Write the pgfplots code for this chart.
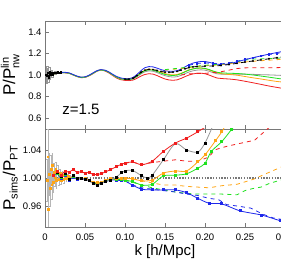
\documentclass[border=0pt]{standalone}
\usepackage{fontspec}
\setmainfont{Liberation Sans}
\usepackage{pgfplots}
\pgfplotsset{compat=1.18}
\definecolor{cred}{RGB}{240,30,30}
\definecolor{cblue}{RGB}{30,40,235}
\definecolor{cgreen}{RGB}{30,225,30}
\definecolor{corange}{RGB}{255,165,20}
\definecolor{cgray}{RGB}{150,150,150}
\definecolor{axgray}{RGB}{120,120,120}
\pgfplotsset{
  myax/.style={
    scale only axis, width=240pt, xmin=0, xmax=0.3,
    axis line style={axgray, line width=0.6pt},
    major tick style={axgray, line width=0.5pt},
    tick align=inside, major tick length=4pt,
    xtick={0,0.05,0.1,0.15,0.2,0.25,0.3},
    tick label style={font=\fontsize{9.5}{10}\selectfont, /pgf/number format/assume math mode=true},
    ylabel style={at={(axis description cs:-0.145,0.5)}, anchor=center, font=\fontsize{17}{18}\selectfont},
    every axis plot/.append style={line width=0.8pt},
  },
  dsh/.style={dash pattern=on 4pt off 4pt},
}
\begin{document}
\begin{tikzpicture}
%================ TOP PANEL ================
\begin{axis}[myax, at={(0,0)}, anchor=south west, height=108pt,
  ymin=0.5, ymax=1.5, ytick={0.6,0.8,1.0,1.2,1.4}, xticklabels={},
  yticklabel style={/pgf/number format/.cd, fixed, fixed zerofill, precision=1},
  ylabel={P/P$_{\mbox{\fontsize{11}{11}\selectfont nw}}^{\mbox{\fontsize{11}{11}\selectfont lin}}$}]
% low-k points
\addplot[only marks, mark=square*, mark size=0.8pt, black, error bars/.cd, y dir=both, y explicit, error bar style={cgray, line width=0.4pt}]
 coordinates {(0.002,1.00)+-(0,0.08) (0.003,0.99)+-(0,0.07) (0.004,1.02)+-(0,0.06) (0.005,0.98)+-(0,0.05) (0.006,1.03)+-(0,0.04) (0.007,1.00)+-(0,0.035) (0.008,1.01)+-(0,0.03) (0.009,1.02)+-(0,0.025) (0.010,1.00)+-(0,0.02) (0.012,1.02)+-(0,0.015) (0.014,1.02)+-(0,0.012) (0.016,1.025)+-(0,0.01) (0.018,1.02)+-(0,0.008) (0.020,1.025)+-(0,0.007)};
% red solid
\addplot[cred, smooth] coordinates {(0.005,1.000)(0.01,1.008)(0.015,1.016)(0.02,1.020)(0.025,1.020)(0.03,1.015)(0.035,1.000)(0.04,0.985)(0.045,0.975)(0.05,0.977)(0.055,0.992)(0.06,1.012)(0.065,1.035)(0.07,1.045)(0.075,1.037)(0.08,1.018)(0.085,0.993)(0.09,0.970)(0.095,0.956)(0.1,0.950)(0.105,0.948)(0.11,0.953)(0.115,0.970)(0.12,0.990)(0.125,1.005)(0.13,1.012)(0.135,1.008)(0.14,0.995)(0.145,0.978)(0.15,0.963)(0.155,0.954)(0.16,0.951)(0.165,0.955)(0.17,0.968)(0.175,0.985)(0.18,1.000)(0.185,1.010)(0.19,1.016)(0.195,1.017)(0.2,1.012)(0.205,1.000)(0.21,0.985)(0.215,0.972)(0.22,0.968)(0.225,0.965)(0.23,0.963)(0.24,0.955)(0.25,0.942)(0.26,0.928)(0.27,0.913)(0.28,0.898)(0.29,0.885)(0.3,0.872)};
% gray solid
\addplot[cgray, smooth] coordinates {(0.005,1.000)(0.01,1.008)(0.015,1.016)(0.02,1.021)(0.025,1.021)(0.03,1.016)(0.035,1.001)(0.04,0.986)(0.045,0.976)(0.05,0.979)(0.055,0.994)(0.06,1.014)(0.065,1.036)(0.07,1.046)(0.075,1.040)(0.08,1.022)(0.085,0.998)(0.09,0.976)(0.095,0.962)(0.1,0.956)(0.105,0.955)(0.11,0.963)(0.115,0.984)(0.12,1.010)(0.125,1.030)(0.13,1.038)(0.135,1.035)(0.14,1.023)(0.145,1.007)(0.15,0.994)(0.155,0.985)(0.16,0.981)(0.165,0.984)(0.17,0.997)(0.175,1.013)(0.18,1.028)(0.185,1.039)(0.19,1.045)(0.195,1.048)(0.2,1.045)(0.205,1.035)(0.21,1.022)(0.215,1.011)(0.22,1.008)(0.225,1.006)(0.23,1.006)(0.24,1.008)(0.25,1.008)(0.26,1.006)(0.27,1.003)(0.28,1.001)(0.29,0.998)(0.3,0.995)};
% orange solid
\addplot[corange, smooth] coordinates {(0.005,1.000)(0.01,1.009)(0.015,1.017)(0.02,1.023)(0.025,1.023)(0.03,1.018)(0.035,1.003)(0.04,0.988)(0.045,0.978)(0.05,0.981)(0.055,0.996)(0.06,1.017)(0.065,1.038)(0.07,1.048)(0.075,1.042)(0.08,1.025)(0.085,1.001)(0.09,0.980)(0.095,0.966)(0.1,0.960)(0.105,0.960)(0.11,0.969)(0.115,0.993)(0.12,1.023)(0.125,1.046)(0.13,1.055)(0.135,1.052)(0.14,1.040)(0.145,1.025)(0.15,1.013)(0.155,1.004)(0.16,1.001)(0.165,1.004)(0.17,1.016)(0.175,1.032)(0.18,1.048)(0.185,1.058)(0.19,1.063)(0.195,1.064)(0.2,1.059)(0.205,1.047)(0.21,1.032)(0.215,1.019)(0.22,1.013)(0.225,1.008)(0.23,1.005)(0.24,0.998)(0.25,0.986)(0.26,0.974)(0.27,0.963)(0.28,0.951)(0.29,0.940)(0.3,0.932)};
% green solid
\addplot[cgreen, smooth] coordinates {(0.005,1.000)(0.01,1.008)(0.015,1.016)(0.02,1.022)(0.025,1.022)(0.03,1.017)(0.035,1.002)(0.04,0.987)(0.045,0.977)(0.05,0.980)(0.055,0.995)(0.06,1.016)(0.065,1.037)(0.07,1.047)(0.075,1.041)(0.08,1.024)(0.085,1.000)(0.09,0.979)(0.095,0.965)(0.1,0.959)(0.105,0.958)(0.11,0.967)(0.115,0.989)(0.12,1.018)(0.125,1.040)(0.13,1.048)(0.135,1.045)(0.14,1.033)(0.145,1.018)(0.15,1.005)(0.155,0.998)(0.16,0.995)(0.165,0.999)(0.17,1.012)(0.175,1.029)(0.18,1.045)(0.185,1.056)(0.19,1.063)(0.195,1.065)(0.2,1.061)(0.205,1.051)(0.21,1.037)(0.215,1.025)(0.22,1.020)(0.225,1.018)(0.23,1.016)(0.24,1.014)(0.25,1.008)(0.26,1.000)(0.27,0.990)(0.28,0.980)(0.29,0.969)(0.3,0.960)};
% blue solid
\addplot[cblue, smooth] coordinates {(0.005,1.000)(0.01,1.010)(0.015,1.018)(0.02,1.024)(0.025,1.025)(0.03,1.020)(0.035,1.005)(0.04,0.990)(0.045,0.980)(0.05,0.983)(0.055,0.998)(0.06,1.020)(0.065,1.040)(0.07,1.050)(0.075,1.045)(0.08,1.028)(0.085,1.005)(0.09,0.985)(0.095,0.972)(0.1,0.966)(0.105,0.966)(0.11,0.978)(0.115,1.005)(0.12,1.040)(0.125,1.068)(0.13,1.078)(0.135,1.075)(0.14,1.064)(0.145,1.050)(0.15,1.040)(0.155,1.034)(0.16,1.034)(0.165,1.040)(0.17,1.055)(0.175,1.075)(0.18,1.095)(0.185,1.110)(0.19,1.120)(0.195,1.125)(0.2,1.125)(0.205,1.118)(0.21,1.108)(0.215,1.100)(0.22,1.097)(0.225,1.098)(0.23,1.103)(0.24,1.122)(0.25,1.142)(0.26,1.160)(0.27,1.177)(0.28,1.193)(0.29,1.208)(0.3,1.222)};
% dashed
\addplot[cred, dsh] coordinates {(0.17,1.0)(0.18,1.01)(0.19,1.015)(0.2,1.015)(0.21,1.022)(0.22,1.03)(0.23,1.045)(0.24,1.06)(0.25,1.066)(0.26,1.067)(0.27,1.067)(0.28,1.067)(0.29,1.068)(0.3,1.07)};
\addplot[corange, dsh] coordinates {(0.15,1.045)(0.17,1.06)(0.19,1.077)(0.2,1.085)(0.22,1.095)(0.24,1.112)(0.25,1.12)(0.26,1.127)(0.27,1.132)(0.28,1.137)(0.29,1.142)(0.3,1.147)};
\addplot[cgreen, dsh] coordinates {(0.15,1.05)(0.17,1.065)(0.19,1.082)(0.2,1.09)(0.21,1.095)(0.22,1.1)(0.23,1.11)(0.24,1.125)(0.25,1.138)(0.26,1.147)(0.27,1.15)(0.28,1.152)(0.29,1.155)(0.3,1.16)};
\addplot[cblue, dsh, mark=square*, mark size=0.8pt, mark options={solid}] coordinates {(0.18,1.09)(0.19,1.107)(0.2,1.112)(0.21,1.107)(0.22,1.103)(0.23,1.11)(0.24,1.127)(0.25,1.143)(0.26,1.16)(0.27,1.175)(0.28,1.19)(0.29,1.2)(0.3,1.212)};
\addplot[black, dsh, smooth, mark=*, mark size=0.5pt, mark options={solid}] coordinates {(0.1,0.962)(0.105,0.962)(0.11,0.97)(0.115,0.995)(0.12,1.025)(0.125,1.045)(0.13,1.052)(0.135,1.05)(0.14,1.042)(0.145,1.033)(0.15,1.027)(0.155,1.025)(0.16,1.027)(0.165,1.033)(0.17,1.045)(0.175,1.058)(0.18,1.068)(0.185,1.075)(0.19,1.079)(0.2,1.082)(0.21,1.083)(0.22,1.088)(0.23,1.097)(0.24,1.108)(0.25,1.12)(0.26,1.13)(0.27,1.14)(0.28,1.15)(0.29,1.16)(0.3,1.172)};
\node[anchor=center, font=\fontsize{15}{16}\selectfont] at (axis description cs:0.15,0.185) {z=1.5};
\end{axis}
%================ BOTTOM PANEL ================
\begin{axis}[myax, at={(0,0)}, anchor=north west, height=98pt,
  ymin=0.93, ymax=1.07, ytick={0.96,1.00,1.04},
  yticklabel style={/pgf/number format/.cd, fixed, fixed zerofill, precision=2},
  xticklabels={0,0.05,0.10,0.15,0.20,0.25,0.30},
  xticklabel style={yshift=-3pt},
  xlabel={k [h/Mpc]},
  xlabel style={at={(axis description cs:0.5,0)}, anchor=north, inner sep=0pt, yshift=-17pt, font=\fontsize{15}{16}\selectfont},
  ylabel={P$_{\mbox{\fontsize{11}{11}\selectfont sims}}$/P$_{\mbox{\fontsize{11}{11}\selectfont PT}}$}]
\addplot[axgray, line width=1.4pt, dash pattern=on 1.4pt off 1.4pt] coordinates {(0,1)(0.3,1)};
% low-k noisy points
\addplot[only marks, mark=square*, mark size=0.9pt, corange, error bars/.cd, y dir=both, y explicit, error bar style={cgray!70, line width=0.4pt}]
 coordinates {(0.0025,0.997)+-(0,0.03) (0.0035,1.030)+-(0,0.04) (0.0045,0.955)+-(0,0.08) (0.0055,1.005)+-(0,0.03) (0.0065,0.985)+-(0,0.025) (0.0075,1.012)+-(0,0.02) (0.0085,0.990)+-(0,0.02) (0.0095,1.018)+-(0,0.018) (0.0105,0.994)+-(0,0.015) (0.0115,1.008)+-(0,0.013) (0.0125,1.000)+-(0,0.012) (0.0135,1.012)+-(0,0.011) (0.0145,0.996)+-(0,0.01) (0.016,1.009)+-(0,0.009) (0.0175,0.998)+-(0,0.008) (0.019,1.006)+-(0,0.007) (0.0205,0.997)+-(0,0.006) (0.022,1.004)+-(0,0.006) (0.0235,0.998)+-(0,0.005) (0.025,1.003)+-(0,0.005) (0.027,0.999)+-(0,0.004) (0.029,1.002)+-(0,0.004) (0.031,1.000)+-(0,0.004)};
% dashed
\addplot[cred, dsh] coordinates {(0.1,1.021)(0.109,1.023)(0.121,1.019)(0.134,1.022)(0.148,1.024)(0.163,1.026)(0.177,1.024)(0.191,1.024)(0.205,1.03)(0.212,1.04)(0.22,1.043)(0.23,1.046)(0.246,1.05)(0.262,1.054)(0.272,1.064)(0.28,1.072)(0.29,1.08)};
\addplot[corange, dsh] coordinates {(0.1,1.0)(0.109,0.999)(0.121,0.996)(0.134,0.993)(0.148,0.99)(0.163,0.99)(0.177,0.988)(0.191,0.987)(0.205,0.986)(0.221,0.989)(0.24,0.991)(0.26,0.998)(0.28,1.008)(0.3,1.018)};
\addplot[cgreen, dsh] coordinates {(0.1,0.997)(0.109,0.994)(0.121,0.99)(0.134,0.986)(0.148,0.983)(0.163,0.98)(0.177,0.978)(0.191,0.977)(0.205,0.977)(0.221,0.977)(0.24,0.976)(0.25,0.982)(0.26,0.985)(0.27,0.987)(0.28,0.992)(0.3,0.999)};
\addplot[cblue, dsh] coordinates {(0.1,0.996)(0.109,0.99)(0.121,0.986)(0.134,0.984)(0.148,0.982)(0.163,0.98)(0.177,0.977)(0.191,0.975)(0.205,0.971)(0.217,0.969)(0.227,0.962)(0.24,0.96)(0.257,0.957)(0.273,0.948)(0.285,0.943)(0.3,0.94)};
% solid with markers
\addplot[cblue, smooth, mark=square*, mark size=1pt] coordinates {(0.01,1.004)(0.015,1.006)(0.02,1.0)(0.025,1.004)(0.03,0.997)(0.035,1.001)(0.04,0.998)(0.045,0.999)(0.05,0.998)(0.055,0.996)(0.06,0.993)(0.065,0.992)(0.07,0.993)(0.076,0.995)(0.082,0.997)(0.089,0.997)(0.096,0.996)(0.1,0.996)(0.109,0.99)(0.121,0.984)(0.134,0.983)(0.148,0.983)(0.163,0.983)(0.177,0.979)(0.191,0.971)(0.205,0.964)(0.221,0.963)(0.244,0.953)(0.271,0.947)(0.294,0.939)(0.31,0.935)};
\addplot[cgreen, smooth, mark=square*, mark size=1pt] coordinates {(0.01,1.004)(0.015,1.007)(0.02,1.001)(0.025,1.005)(0.03,0.998)(0.035,1.002)(0.04,0.999)(0.045,1.0)(0.05,0.999)(0.055,0.997)(0.06,0.993)(0.065,0.992)(0.07,0.993)(0.076,0.996)(0.082,0.998)(0.089,0.998)(0.096,0.998)(0.1,0.997)(0.109,0.995)(0.121,0.99)(0.134,0.991)(0.148,1.003)(0.163,1.004)(0.177,1.006)(0.191,1.014)(0.2,1.021)(0.208,1.038)(0.221,1.052)(0.233,1.069)(0.24,1.078)};
\addplot[corange, smooth, mark=square*, mark size=1pt] coordinates {(0.01,1.004)(0.015,1.008)(0.02,1.002)(0.025,1.006)(0.03,0.998)(0.035,1.003)(0.04,0.999)(0.045,1.0)(0.05,0.999)(0.055,0.997)(0.06,0.994)(0.065,0.993)(0.07,0.994)(0.076,0.997)(0.082,0.999)(0.089,0.999)(0.096,1.0)(0.1,1.0)(0.109,0.999)(0.121,0.996)(0.134,0.997)(0.148,1.007)(0.163,1.01)(0.177,1.01)(0.191,1.023)(0.2,1.033)(0.213,1.053)(0.221,1.066)(0.228,1.08)};
\addplot[cgray, smooth, mark=square*, mark size=1pt, mark options={black}] coordinates {(0.01,1.004)(0.015,1.008)(0.02,1.002)(0.025,1.006)(0.03,0.998)(0.035,1.003)(0.04,0.999)(0.045,1.0)(0.05,0.998)(0.055,0.996)(0.06,0.992)(0.065,0.99)(0.07,0.992)(0.076,0.995)(0.082,0.997)(0.089,1.001)(0.096,1.008)(0.1,1.01)(0.109,1.011)(0.121,1.003)(0.128,1.0)(0.134,1.004)(0.148,1.026)(0.163,1.049)(0.177,1.04)(0.191,1.037)(0.2,1.05)(0.21,1.075)};
\addplot[cred, smooth, mark=square*, mark size=1pt] coordinates {(0.01,1.004)(0.015,1.01)(0.02,1.004)(0.025,1.01)(0.03,1.008)(0.035,1.012)(0.04,1.008)(0.045,1.009)(0.05,1.007)(0.055,1.008)(0.06,1.005)(0.065,1.005)(0.07,1.006)(0.076,1.009)(0.082,1.012)(0.089,1.016)(0.096,1.02)(0.1,1.021)(0.109,1.023)(0.121,1.019)(0.134,1.024)(0.148,1.038)(0.163,1.05)(0.177,1.057)(0.191,1.066)(0.205,1.076)};
\end{axis}
\pgfresetboundingbox
\path[use as bounding box] (-45pt,-135pt) rectangle (236pt,129pt);
\end{tikzpicture}
\end{document}
